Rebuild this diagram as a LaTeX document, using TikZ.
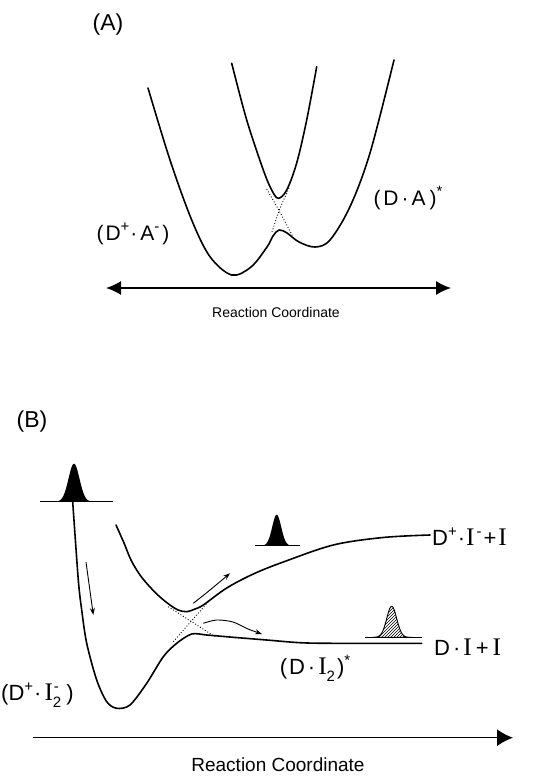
\documentclass[tikz,border=0pt]{standalone}
\usepackage{fontspec}
\setmainfont{Liberation Sans}
\newfontfamily\serifI[Scale=1.15]{Liberation Serif}
\usetikzlibrary{arrows.meta,patterns}
\newcommand{\sI}{{\serifI I}}
\newcommand{\upch}[1]{\raisebox{0.42em}{\fontsize{15}{15}\selectfont #1}}
\newcommand{\dnch}[1]{\raisebox{-0.3em}{\fontsize{15}{15}\selectfont #1}}
\begin{document}
\begin{tikzpicture}[x=1pt,y=-1pt,
  curve/.style={line width=1.6pt, line join=round, line cap=round},
  dots/.style={dotted, line width=0.9pt},
  thinarrow/.style={line width=0.9pt, -{Stealth[length=7pt,width=5pt]}},
  lblA/.style={font=\fontsize{21}{21}\selectfont, inner sep=0pt},
  lblB/.style={font=\fontsize{22}{22}\selectfont, inner sep=0pt},
  panel/.style={font=\fontsize{23}{23}\selectfont, inner sep=0pt},
  axlbl/.style={inner sep=0pt}]
\useasboundingbox (0,0) rectangle (539,776);

% ---------- Panel A ----------
\node[panel] (labA) at (108,25) {(A)};
\draw[curve] plot[smooth, tension=0.55] coordinates {(148,88) (170,160) (191.7,220) (210,256.7) (231.7,275) (251,267) (267,247) (273,236) (279,230) (287,233) (299,242) (315,247) (330,240) (350,206.7) (370,153) (394,60)};
\draw[curve] plot[smooth, tension=0.55] coordinates {(231.7,63.3) (246.7,120) (263.3,170) (271.7,190) (278.3,198.3) (286.7,190) (296.7,163) (306.7,120) (316.7,66.7)};
\coordinate (xa1) at (266.7,189);
\coordinate (xa2) at (294,239);
\coordinate (xa3) at (289,188);
\coordinate (xa4) at (272,232);
\draw[dots] (xa1) .. controls (280,212) .. (xa2);
\draw[dots] (xa3) .. controls (279,210) .. (xa4);
\coordinate (axA1) at (106,288);
\coordinate (axA2) at (451,288);
\draw[line width=1.5pt, {Latex[length=15pt,width=14pt]}-{Latex[length=15pt,width=14pt]}] (axA1) -- (axA2);
\node[lblA] (ionA) at (133,234) {(\kern2pt D\upch{+}\kern1pt·\kern3pt A\upch{-}\kern3pt)};
\node[lblA] (exA) at (408,198) {(\kern3pt D\kern3pt·\kern3pt A\kern4pt)\upch{*}};
\node[axlbl, font=\fontsize{14}{14}\selectfont] (rcA) at (276,312) {Reaction Coordinate};

% ---------- Panel B ----------
\node[panel] (labB) at (32,422) {(B)};
% gaussian 1
\fill plot[domain=52:96, samples=60] (\x, {501.7-38*exp(-((\x-74)/5.5)^2/2)}) -- cycle;
\coordinate (g1a) at (40,501.7);
\coordinate (g1b) at (113.3,501.7);
\draw[line width=1.5pt] (g1a) -- (g1b);
% lower curve
\draw[curve] plot[smooth, tension=0.5] coordinates {(72.7,501.7) (78.3,580) (81.7,610) (86.7,643.3) (96.7,680) (106.7,701.7) (116.7,708.3) (130,705) (146.7,683.3) (163.3,656.7) (176.7,643.3) (191.7,634) (206.7,635) (233.3,637.3) (266.7,640) (300,642.7) (333,643.3) (421.7,643.3)};
% upper curve
\draw[curve] plot[smooth, tension=0.55] coordinates {(116,525) (124,543) (131,560) (140,575) (150,587) (160,597) (170,605) (178,610) (186.7,611.7) (195,609) (203.3,605) (226.7,588) (253.3,574) (283.3,562) (333.3,545) (383,537.5) (430,535)};
% dotted crossing
\coordinate (xb1) at (168.3,606.7);
\coordinate (xb2) at (215,636.7);
\coordinate (xb3) at (173.3,641.7);
\coordinate (xb4) at (208.3,601.7);
\draw[dots] (xb1) -- (xb2);
\draw[dots] (xb3) -- (xb4);
% arrows
\coordinate (d1) at (86,562);
\coordinate (d2) at (93.3,615);
\draw[thinarrow] (d1) -- (d2);
\draw[thinarrow] plot[smooth] coordinates {(193.3,603.3) (210,590) (230,573.3)};
\draw[thinarrow] plot[smooth] coordinates {(203.3,623.3) (216.7,620) (233,622) (248,629) (262,634)};
% gaussian 2
\fill plot[domain=258:296, samples=60] (\x, {545.7-31*exp(-((\x-276.7)/4.5)^2/2)}) -- cycle;
\coordinate (g2a) at (255,545.7);
\coordinate (g2b) at (300,545.7);
\draw[line width=1.2pt] (g2a) -- (g2b);
% gaussian 3 hatched
\draw[line width=0.9pt, pattern=north east lines] plot[domain=372:412, samples=60] (\x, {637.3-31*exp(-((\x-391.7)/5)^2/2)}) -- cycle;
\coordinate (g3a) at (365,637.3);
\coordinate (g3b) at (421.7,637.3);
\draw[line width=1.2pt] (g3a) -- (g3b);
% labels
\node[lblB, anchor=west] (ionB) at (432,537) {D\upch{+}\kern1pt·\kern1pt\sI\kern2pt\upch{-}\kern2pt+\kern2pt\sI};
\node[lblB, anchor=west] (prodB) at (434,647) {D\kern3pt·\kern3pt\sI\kern4pt+\kern4pt\sI};
\node[lblB] (exB) at (315,668) {(\kern2pt D\kern3pt·\kern3pt\sI\dnch{2}\kern2pt)\upch{*}};
\node[lblB, anchor=west] (ionB2) at (1,695) {(D\upch{+}\kern1pt·\kern3pt\sI\makebox[0pt][l]{\kern1pt\upch{-}}\dnch{2}\kern5pt)};
\coordinate (axB1) at (33,737.7);
\coordinate (axB2) at (513,737.7);
\draw[line width=1.5pt, -{Latex[length=16pt,width=17pt]}] (axB1) -- (axB2);
\node[axlbl, font=\fontsize{19}{19}\selectfont] (rcB) at (278,765) {Reaction Coordinate};
\end{tikzpicture}
\end{document}
